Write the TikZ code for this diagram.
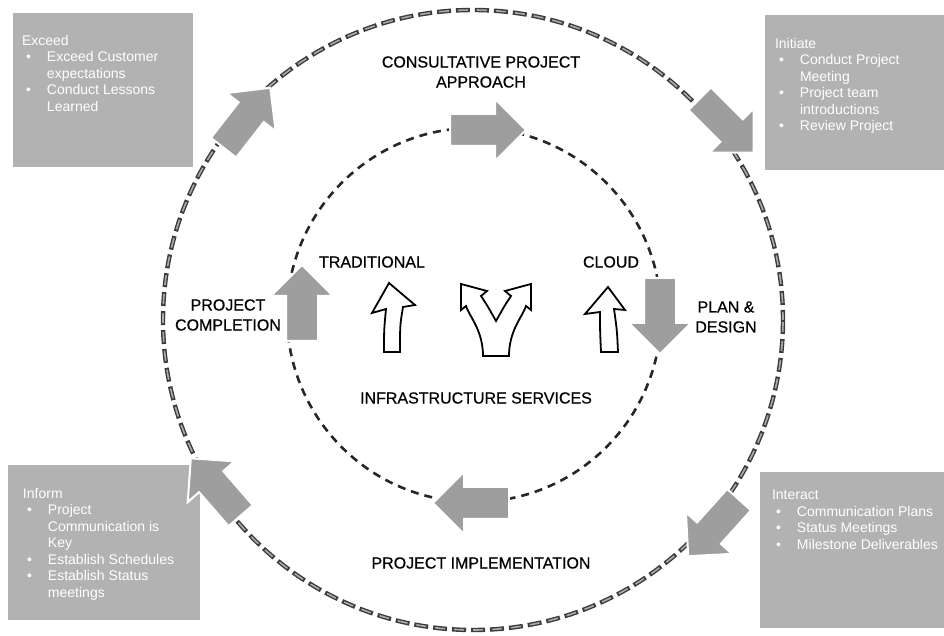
\documentclass[tikz,border=0pt]{standalone}
\usepackage{fontspec}
\setmainfont{Liberation Sans}
\newfontfamily\phasefont{Liberation Sans}[FakeBold=0.6]
\usetikzlibrary{shapes.arrows,positioning}
\definecolor{boxgray}{RGB}{178,178,178}
\definecolor{arrowgray}{RGB}{158,158,158}
\definecolor{dashdark}{RGB}{60,60,60}
\definecolor{dashlight}{RGB}{170,170,170}
\tikzset{
    phase/.style={font=\phasefont\fontsize{8}{10}\selectfont, align=center, inner sep=0pt}, % labels of the cycle
    infobox/.style={rectangle, fill=boxgray, inner sep=0pt},
    infotext/.style={font=\fontsize{7}{8.25}\selectfont, text=white, align=left, inner sep=0pt, anchor=north west},
    flowarrow/.style={single arrow, fill=arrowgray, draw=white, line width=1pt,
        inner sep=7.5pt, minimum height=38pt, single arrow head extend=7.5pt},
    hollow/.style={draw=black, line width=0.9pt, fill=white},
}
\newcommand{\bitem}{\makebox[12.5pt][l]{\hspace{2pt}\textbullet}}
\newcommand{\bcont}{\hspace*{12.5pt}}

\begin{document}
\begin{tikzpicture}[x=0.5pt, y=-0.5pt]
    \useasboundingbox (0,0) rectangle (944,636);
    \coordinate (hub) at (473,320);
    \coordinate (core) at (474,315);
    % the two cycles
    \draw[dashdark, line width=2.2pt, dash pattern=on 7pt off 2.5pt] (hub) circle[radius=310];
    \draw[dashlight, line width=0.8pt, dash pattern=on 5pt off 4.5pt, dash phase=8.5pt] (hub) circle[radius=310];
    \draw[black!85, line width=1.3pt, dash pattern=on 4pt off 3pt] (core) circle[radius=187];

    % corner boxes
    \node[infobox, minimum width=90pt, minimum height=77pt] (exceed) at (103,90) {};
    \node[infobox, minimum width=89.5pt, minimum height=77.5pt] (initiate) at (854.5,92.5) {};
    \node[infobox, minimum width=96pt, minimum height=77.5pt] (inform) at (104,542.5) {};
    \node[infobox, minimum width=92pt, minimum height=78pt] (interact) at (852,550) {};
    \node[infotext] at ([shift={(9,22)}]exceed.north west)
        {Exceed\\\bitem Exceed Customer\\\bcont expectations\\\bitem Conduct Lessons\\\bcont Learned};
    \node[infotext] at ([shift={(10,23)}]initiate.north west)
        {Initiate\\\bitem Conduct Project\\\bcont Meeting\\\bitem Project team\\\bcont introductions\\\bitem Review Project};
    \node[infotext] at ([shift={(15,23)}]inform.north west)
        {Inform\\\bitem Project\\\bcont Communication is\\\bcont Key\\\bitem Establish Schedules\\\bitem Establish Status\\\bcont meetings};
    \node[infotext] at ([shift={(12,18)}]interact.north west)
        {Interact\\\bitem Communication Plans\\\bitem Status Meetings\\\bitem Milestone Deliverables};

    % arrows on the cycles
    \node[flowarrow, rotate=52] (exceedarrow) at (242,124) {};
    \node[flowarrow, rotate=-45] (initiatearrow) at (721,120) {};
    \node[flowarrow, rotate=-132] (interactarrow) at (719,522) {};
    \node[flowarrow, rotate=131] (informarrow) at (221,493) {};
    \node[flowarrow] (approacharrow) at (480,130) {};
    \node[flowarrow, rotate=-90] (designarrow) at (660,308) {};
    \node[flowarrow, rotate=180] (implementarrow) at (479,503) {};
    \node[flowarrow, rotate=90] (completionarrow) at (302,311) {};

    % hollow arrows in the middle
    \draw[hollow] (389,283) -- (415,305) -- (403,307) .. controls (400,325) .. (400,352)
        -- (384,352) .. controls (384,330) .. (386,309) -- (372,313) -- cycle;
    \draw[hollow] (608,287) -- (625,310) -- (614,309) .. controls (617,330) .. (618,352)
        -- (601,352) .. controls (600,330) .. (600,312) -- (585,314) -- cycle;
    \draw[hollow] (483,356) .. controls (483,330) and (469,316) .. (466,306) -- (461,310)
        -- (461,284) -- (487,291) -- (481,296) .. controls (487,305) .. (496,321)
        .. controls (505,305) .. (511,296) -- (505,291) -- (531,284) -- (531,310)
        -- (526,306) .. controls (523,316) and (509,330) .. (509,356) -- cycle;

    % labels
    \node[phase] (approach) at (481,72) {CONSULTATIVE PROJECT\\APPROACH};
    \node[phase] (traditional) at (372,262) {TRADITIONAL};
    \node[phase] (cloud) at (611,262) {CLOUD};
    \node[phase] (completion) at (228,315) {PROJECT\\COMPLETION};
    \node[phase] (plan) at (726,317) {PLAN \&\\DESIGN};
    \node[phase] (infra) at (476,398) {INFRASTRUCTURE SERVICES};
    \node[phase] (implementation) at (481,563) {PROJECT IMPLEMENTATION};
\end{tikzpicture}
\end{document}
